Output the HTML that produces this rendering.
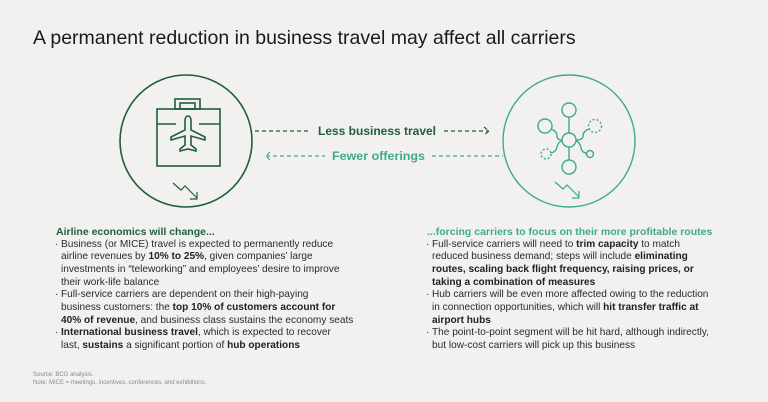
<!DOCTYPE html>
<html><head><meta charset="utf-8"><style>
body{margin:0;width:768px;height:402px;background:#f2f1ef;font-family:"Liberation Sans",sans-serif;position:relative;overflow:hidden;color:#222}
.t{position:absolute;left:33px;top:27px;font-size:19.5px;color:#1a1a1a}
.col{position:absolute;font-size:10.1px;line-height:12.65px;color:#2a2a2a;white-space:nowrap;letter-spacing:0px}
.col h4{margin:0;font-size:10.5px;font-weight:bold}
.col ul{margin:0;padding:0;list-style:none}
.col li{position:relative;padding-left:5px}
.col li:before{content:"·";position:absolute;left:-1px}
b{color:#222}
.src{position:absolute;left:33px;top:371px;font-size:6px;line-height:8px;color:#888}
</style></head><body>
<div class="t">A permanent reduction in business travel may affect all carriers</div>
<svg width="768" height="230" style="position:absolute;left:0;top:0">
<g fill="none" stroke="#1f5e3f" stroke-width="1.6">
<circle cx="186" cy="141" r="66"/>
<rect x="157" y="109" width="63" height="57"/>
<path d="M157 124 L176 124 M199 124 L220 124" />
<rect x="175" y="99" width="25" height="10"/>
<rect x="180" y="103" width="15" height="6"/>
<path d="M188 116 q-3 0 -3 5 v9 l-14 7 v3 l14 -4 v9 l-5 4 v2 l8 -2 l8 2 v-2 l-5 -4 v-9 l14 4 v-3 l-14 -7 v-9 q0 -5 -3 -5z"/>
<path d="M173 183 l8 7 l4 -4 l12 12 M197 192 v7 h-7" stroke-width="1.2"/>
<path d="M255 131 H310" stroke-dasharray="4 3" stroke-width="1.2"/>
<path d="M444 131 H489 M484 127 l5 4 l-5 4" stroke-dasharray="4 3" stroke-width="1.2"/>
</g>
<text x="318" y="135" font-size="12" font-weight="bold" fill="#1f5e3f" font-family="Liberation Sans" textLength="118" lengthAdjust="spacingAndGlyphs">Less business travel</text>
<g fill="none" stroke="#3fab88" stroke-width="1.4">
<circle cx="569" cy="141" r="66"/>
<path d="M266 156 H325 M270 152 l-4 4 l4 4" stroke-dasharray="4 3" stroke-width="1.2"/>
<path d="M432 156 H503" stroke-dasharray="4 3" stroke-width="1.2"/>
<circle cx="569" cy="140" r="7"/>
<circle cx="569" cy="110" r="7"/><circle cx="569" cy="167" r="7"/>
<path d="M569 117 V133 M569 147 V160"/>
<circle cx="545" cy="126" r="7"/>
<path d="M551 129 q6 2 6 7 q0 4 5 4"/>
<circle cx="595" cy="126" r="6.5" stroke-dasharray="2 2"/>
<path d="M589 129 q-6 2 -6 7 q0 4 -7 4"/>
<circle cx="546" cy="154" r="5" stroke-dasharray="2 2"/>
<path d="M551 153 q5 -1 6 -6 q1 -5 5 -6"/>
<circle cx="590" cy="154" r="3.5"/>
<path d="M587 153 q-5 0 -6 -5 q-1 -6 -5 -7"/>
<path d="M555 182 l8 7 l4 -4 l12 12 M579 191 v7 h-7" stroke-width="1.2"/>
</g>
<text x="332" y="160" font-size="12" font-weight="bold" fill="#3fab88" font-family="Liberation Sans" textLength="93" lengthAdjust="spacingAndGlyphs">Fewer offerings</text>
</svg>
<div class="col" style="left:56px;top:226px">
<h4 style="color:#1f5e3f">Airline economics will change...</h4>
<ul>
<li>Business (or MICE) travel is expected to permanently reduce<br>airline revenues by <b>10% to 25%</b>, given companies’ large<br>investments in “teleworking” and employees’ desire to improve<br>their work-life balance</li>
<li>Full-service carriers are dependent on their high-paying<br>business customers: the <b>top 10% of customers account for<br>40% of revenue</b>, and business class sustains the economy seats</li>
<li><b>International business travel</b>, which is expected to recover<br>last, <b>sustains</b> a significant portion of <b>hub operations</b></li>
</ul></div>
<div class="col" style="left:427px;top:226px">
<h4 style="color:#3fab88">...forcing carriers to focus on their more profitable routes</h4>
<ul>
<li>Full-service carriers will need to <b>trim capacity</b> to match<br>reduced business demand; steps will include <b>eliminating<br>routes, scaling back flight frequency, raising prices, or<br>taking a combination of measures</b></li>
<li>Hub carriers will be even more affected owing to the reduction<br>in connection opportunities, which will <b>hit transfer traffic at<br>airport hubs</b></li>
<li>The point-to-point segment will be hit hard, although indirectly,<br>but low-cost carriers will pick up this business</li>
</ul></div>
<div class="src">Source: BCG analysis.<br>Note: MICE = meetings, incentives, conferences, and exhibitions.</div>
</body></html>
